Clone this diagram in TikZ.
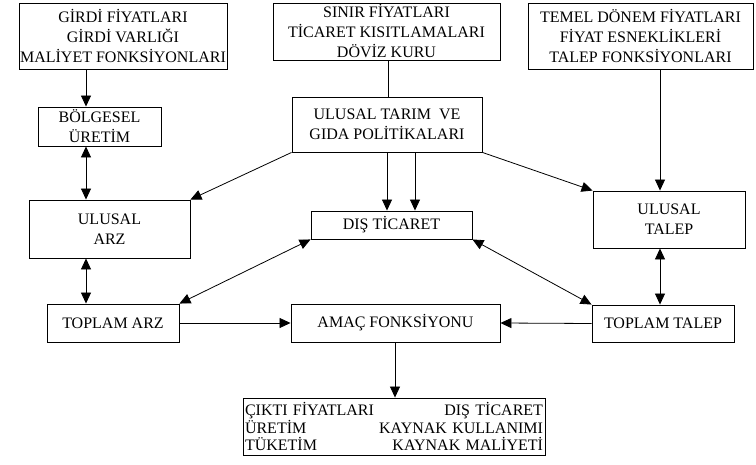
\documentclass[tikz,border=0pt]{standalone}
\usepackage{fontspec}
\setmainfont{Liberation Serif}
\usepackage{tikz}
\usetikzlibrary{arrows.meta}
\newcommand{\boxfont}{\fontsize{16pt}{20pt}\selectfont}
\newcommand{\listfont}{\fontsize{16pt}{17.5pt}\selectfont}
\tikzset{box/.style={draw, line width=0.9pt, rectangle, align=center, inner sep=1pt, font=\boxfont},
  link/.style={line width=0.8pt, -{Triangle[length=11pt,width=10pt]}},
  dlink/.style={line width=0.8pt, {Triangle[length=11pt,width=10pt]}-{Triangle[length=11pt,width=10pt]}}}

\begin{document}
\begin{tikzpicture}[x=1pt, y=-1pt]%
\useasboundingbox (0,0) rectangle (756,465);%
\node[box, minimum width=208pt, minimum height=66pt] (girdi) at (123, 36) {GİRDİ FİYATLARI\\GİRDİ VARLIĞI\\MALİYET FONKSİYONLARI};%
\node[box, minimum width=227pt, minimum height=57pt] (sinir) at (386.5, 31.5) {SINIR FİYATLARI\\TİCARET KISITLAMALARI\\DÖVİZ KURU};%
\node[box, minimum width=225pt, minimum height=66pt] (temel) at (640.5, 36) {TEMEL DÖNEM FİYATLARI\\FİYAT ESNEKLİKLERİ\\TALEP FONKSİYONLARI};%
\node[box, minimum width=123pt, minimum height=39pt] (bolgesel) at (99.5, 126.5) {BÖLGESEL\\ÜRETİM};%
\node[box, minimum width=190pt, minimum height=55pt] (tarim) at (387, 124.5) {ULUSAL TARIM \ VE\\GIDA POLİTİKALARI};%
\node[box, minimum width=161pt, minimum height=58pt] (uarz) at (109.5, 229) {ULUSAL\\ARZ};%
\node[box, minimum width=161pt, minimum height=28pt] (dis) at (391.5, 225) {DIŞ TİCARET};%
\node[box, minimum width=152pt, minimum height=57pt] (utalep) at (669, 219.5) {ULUSAL\\TALEP};%
\node[box, minimum width=132pt, minimum height=38pt] (tarz) at (113, 323) {TOPLAM ARZ};%
\node[box, minimum width=209pt, minimum height=38pt] (amac) at (395.5, 323) {AMAÇ FONKSİYONU};%
\node[box, minimum width=142pt, minimum height=37pt] (ttalep) at (663, 323.5) {TOPLAM TALEP};%
\node[box, font=\listfont, minimum width=302pt, minimum height=57pt, text width=298pt, align=left, inner sep=2pt] (cikti) at (394, 426.5) {ÇIKTI FİYATLARI\hfill DIŞ TİCARET\\ÜRETİM\hfill KAYNAK KULLANIMI\\TÜKETİM\hfill KAYNAK MALİYETİ};%
\coordinate (colarz) at (86, 0);%
\coordinate (coltalep) at (660, 0);%
\coordinate (colsinir) at (388, 0);%
\coordinate (coldisa) at (387, 0);%
\coordinate (coldisb) at (415, 0);%
\coordinate (colamac) at (395, 0);%
\draw[link] (girdi.south -| colarz) -- (bolgesel.north -| colarz);%
\draw[line width=0.8pt] (sinir.south -| colsinir) -- (tarim.north -| colsinir);%
\draw[link] (temel.south -| coltalep) -- (utalep.north -| coltalep);%
\draw[dlink] (bolgesel.south -| colarz) -- (uarz.north -| colarz);%
\draw[link] (tarim.south west) -- (uarz.north east);%
\draw[link] (tarim.south east) -- (utalep.north west);%
\draw[link] (tarim.south -| coldisa) -- (dis.north -| coldisa);%
\draw[link] (tarim.south -| coldisb) -- (dis.north -| coldisb);%
\draw[dlink] (uarz.south -| colarz) -- (tarz.north -| colarz);%
\draw[dlink] (utalep.south -| coltalep) -- (ttalep.north -| coltalep);%
\draw[dlink] (dis.south west) -- (tarz.north east);%
\draw[dlink] (dis.south east) -- (ttalep.north west);%
\draw[link] (tarz.east) -- (amac.west);%
\draw[link] (ttalep.west) -- (amac.east);%
\draw[link] (amac.south -| colamac) -- (cikti.north -| colamac);%
\end{tikzpicture}
\end{document}
